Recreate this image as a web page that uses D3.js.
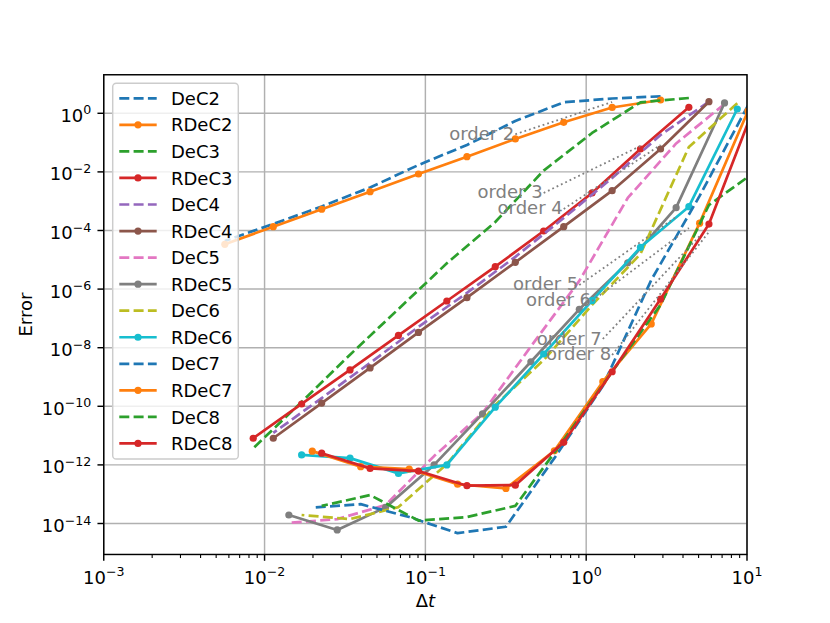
<!DOCTYPE html>
<html lang="en">
<head>
<meta charset="UTF-8" />
<title>DeC / RDeC convergence</title>
<script src="https://d3js.org/d3.v7.min.js"></script>
<style>
  body { margin: 0; background: #fff; }
  svg text { font-family: "DejaVu Sans", sans-serif; }
</style>
</head>
<body>
<svg id="chart" width="830" height="623"></svg>
<script>
// time steps, one array per order
const dt2 = [2.9, 1.45, 0.725, 0.3625, 0.1813, 0.0906, 0.0453, 0.02266, 0.01133, 0.00566];
const dt3 = [4.35, 2.175, 1.088, 0.544, 0.272, 0.136, 0.068, 0.034, 0.017, 0.0085];
const dt4 = [5.8, 2.9, 1.45, 0.725, 0.3625, 0.1813, 0.0906, 0.0453, 0.02266, 0.01133];
const dt5 = [7.25, 3.625, 1.813, 0.906, 0.453, 0.2266, 0.1133, 0.0566, 0.0283, 0.01416];
const dt6 = [8.7, 4.35, 2.175, 1.088, 0.544, 0.272, 0.136, 0.068, 0.034, 0.017];
const dt7 = [10.15, 5.075, 2.538, 1.269, 0.634, 0.317, 0.1586, 0.0793, 0.0396, 0.0198];
const dt8 = [11.6, 5.8, 2.9, 1.45, 0.725, 0.3625, 0.1813, 0.0906, 0.0453, 0.02266];

// errors
const errDeC2  = [3.80, 3.20, 2.37, 0.546, 8.28e-2, 1.72e-2, 2.94e-3, 6.59e-4, 1.67e-4, 4.39e-5];
const errRDeC2 = [2.84, 1.58, 0.493, 0.133, 3.30e-2, 8.47e-3, 2.11e-3, 5.30e-4, 1.35e-4, 3.38e-5];
const errDeC3  = [3.33, 2.37, 0.213, 1.11e-2, 1.95e-4, 7.59e-6, 2.09e-7, 5.75e-9, 1.41e-10, 3.69e-12];
const errRDeC3 = [1.60, 6.05e-2, 1.91e-3, 9.62e-5, 5.82e-6, 3.93e-7, 2.63e-8, 1.74e-9, 1.20e-10, 8.13e-12];
const errDeC4  = [2.49, 0.182, 6.17e-3, 2.69e-4, 1.26e-5, 7.41e-7, 5.13e-8, 3.02e-9, 1.91e-10, 1.23e-11];
const errRDeC4 = [2.49, 6.05e-2, 2.28e-3, 1.35e-4, 8.22e-6, 5.09e-7, 3.31e-8, 2.04e-9, 1.29e-10, 8.13e-12];
const errDeC5  = [2.07, 9.33e-2, 1.29e-3, 1.91e-6, 1.10e-8, 5.89e-11, 2.0e-12, 4.27e-14, 1.41e-14, 1.05e-14];
const errRDeC5 = [2.25, 6.03e-4, 7.94e-6, 2.04e-7, 3.31e-9, 5.50e-11, 1.0e-12, 3.55e-14, 6.03e-15, 1.95e-14];
const errDeC6  = [2.19, 7.08e-2, 1.58e-5, 2.88e-7, 3.80e-9, 1.10e-10, 1.07e-12, 3.63e-14, 1.41e-14, 1.95e-14];
const errRDeC6 = [1.40, 6.49e-4, 2.67e-5, 4.02e-7, 6.10e-9, 9.33e-11, 1.0e-12, 5.13e-13, 1.70e-12, 2.19e-12];
const errDeC7  = [1.86, 1.51e-3, 2.04e-6, 4.90e-10, 1.70e-12, 7.76e-15, 4.68e-15, 1.66e-14, 4.57e-14, 3.47e-14];
const errRDeC7 = [1.20, 1.78e-4, 6.46e-8, 6.92e-10, 3.02e-12, 1.58e-13, 2.19e-13, 7.24e-13, 8.71e-13, 2.95e-12];
const errDeC8  = [1.15e-2, 7.41e-4, 2.88e-7, 1.51e-9, 7.08e-12, 3.98e-14, 1.66e-14, 1.26e-14, 9.33e-14, 3.98e-14];
const errRDeC8 = [3.16, 1.66e-4, 4.57e-7, 1.51e-9, 5.89e-12, 2.04e-13, 1.95e-13, 6.17e-13, 7.59e-13, 2.51e-12];

// reference slope lines
const refOrder = [2, 3, 4, 5, 6, 7, 8];
const refX0 = [0.3625, 0.544, 0.725, 0.906, 1.088, 1.269, 1.45];
const refX1 = [1.45, 2.175, 2.9, 3.625, 4.35, 5.075, 5.8];
const refY0 = [0.192, 1.91e-3, 5.42e-4, 1.38e-6, 3.93e-7, 1.98e-8, 5.64e-9];
const refY1 = [2.43, 7.66e-2, 8.28e-2, 2.89e-4, 1.22e-4, 6.49e-5, 8.89e-5];

// tick exponents
const xTickExp = [-3, -2, -1, 0, 1];
const yTickExp = [0, -2, -4, -6, -8, -10, -12, -14];

const series = [
  { name: "DeC2", dt: dt2, err: errDeC2, rel: false },
  { name: "RDeC2", dt: dt2, err: errRDeC2, rel: true },
  { name: "DeC3", dt: dt3, err: errDeC3, rel: false },
  { name: "RDeC3", dt: dt3, err: errRDeC3, rel: true },
  { name: "DeC4", dt: dt4, err: errDeC4, rel: false },
  { name: "RDeC4", dt: dt4, err: errRDeC4, rel: true },
  { name: "DeC5", dt: dt5, err: errDeC5, rel: false },
  { name: "RDeC5", dt: dt5, err: errRDeC5, rel: true },
  { name: "DeC6", dt: dt6, err: errDeC6, rel: false },
  { name: "RDeC6", dt: dt6, err: errRDeC6, rel: true },
  { name: "DeC7", dt: dt7, err: errDeC7, rel: false },
  { name: "RDeC7", dt: dt7, err: errRDeC7, rel: true },
  { name: "DeC8", dt: dt8, err: errDeC8, rel: false },
  { name: "RDeC8", dt: dt8, err: errRDeC8, rel: true },
];
const colors = d3.schemeCategory10;
series.forEach((s, i) => (s.color = colors[i % 10]));

const L = 103.75, R = 747, T = 74.76, B = 554.47;
const x = d3.scaleLog().domain([1e-3, 10]).range([L, R]);
const y = d3.scaleLog().domain([Math.pow(10, -15.057), Math.pow(10, 1.315)]).range([B, T]);

const svg = d3.select("#chart");
svg.append("rect").attr("width", 830).attr("height", 623).attr("fill", "#fff");

svg.append("defs").append("clipPath").attr("id", "plotclip")
  .append("rect").attr("x", L).attr("y", T).attr("width", R - L).attr("height", B - T);

// grid
const grid = svg.append("g").attr("stroke", "#b0b0b0").attr("stroke-width", 1.45);
xTickExp.forEach((e) => {
  const px = x(Math.pow(10, e));
  grid.append("line").attr("x1", px).attr("x2", px).attr("y1", T).attr("y2", B);
});
yTickExp.forEach((e) => {
  const py = y(Math.pow(10, e));
  grid.append("line").attr("x1", L).attr("x2", R).attr("y1", py).attr("y2", py);
});

// data
const plot = svg.append("g").attr("clip-path", "url(#plotclip)");
const line = d3.line().x((d) => x(d[0])).y((d) => y(d[1]));

series.forEach((s) => {
  const pts = s.dt.map((t, i) => [t, s.err[i]]);
  plot.append("path")
    .attr("d", line(pts))
    .attr("fill", "none")
    .attr("stroke", s.color)
    .attr("stroke-width", 2.7)
    .attr("stroke-linejoin", "round")
    .attr("stroke-dasharray", s.rel ? null : "10,4.3");
  if (s.rel) {
    plot.append("g").selectAll("circle").data(pts).enter().append("circle")
      .attr("cx", (d) => x(d[0]))
      .attr("cy", (d) => y(d[1]))
      .attr("r", 3.6)
      .attr("fill", s.color);
  }
});

// reference order lines
refOrder.forEach((p, i) => {
  plot.append("line")
    .attr("x1", x(refX0[i])).attr("y1", y(refY0[i]))
    .attr("x2", x(refX1[i])).attr("y2", y(refY1[i]))
    .attr("stroke", "#808080")
    .attr("stroke-width", 1.8)
    .attr("stroke-dasharray", "1.8,3");
});
refOrder.forEach((p, i) => {
  svg.append("text")
    .attr("x", x(refX0[i]) - 1)
    .attr("y", y(refY0[i]) - 1)
    .attr("text-anchor", "end")
    .attr("dominant-baseline", "central")
    .attr("font-size", 18)
    .attr("fill", "#808080")
    .text("order " + p);
});

// frame
svg.append("rect").attr("x", L).attr("y", T).attr("width", R - L).attr("height", B - T)
  .attr("fill", "none").attr("stroke", "#000").attr("stroke-width", 1.45);

// ticks
const ticks = svg.append("g").attr("stroke", "#000");
xTickExp.forEach((e) => {
  const px = x(Math.pow(10, e));
  ticks.append("line").attr("x1", px).attr("x2", px).attr("y1", B).attr("y2", B + 6.3).attr("stroke-width", 1.45);
  if (e < 1) {
    for (let m = 2; m <= 9; m++) {
      const mx = x(m * Math.pow(10, e));
      ticks.append("line").attr("x1", mx).attr("x2", mx).attr("y1", B).attr("y2", B + 3.6).attr("stroke-width", 1.1);
    }
  }
  const t = svg.append("text").attr("x", px).attr("y", 583.6).attr("text-anchor", "middle").attr("font-size", 18);
  t.append("tspan").text("10");
  t.append("tspan").attr("dy", -7.5).attr("font-size", 12.6).text(String(e).replace("-", "\u2212"));
});
yTickExp.forEach((e) => {
  const py = y(Math.pow(10, e));
  ticks.append("line").attr("x1", L - 6.3).attr("x2", L).attr("y1", py).attr("y2", py).attr("stroke-width", 1.45);
  const t = svg.append("text").attr("x", L - 12.4).attr("y", py + 8.6).attr("text-anchor", "end").attr("font-size", 18);
  t.append("tspan").text("10");
  t.append("tspan").attr("dy", -7.5).attr("font-size", 12.6).text(String(e).replace("-", "\u2212"));
});

// axis labels
svg.append("text").attr("transform", "translate(31.5,314.6) rotate(-90)")
  .attr("text-anchor", "middle").attr("font-size", 18).text("Error");
const xl = svg.append("text").attr("x", 425.4).attr("y", 607).attr("text-anchor", "middle").attr("font-size", 18);
xl.append("tspan").text("\u0394");
xl.append("tspan").attr("font-style", "italic").text("t");

// legend
const lg = svg.append("g");
lg.append("rect").attr("x", 112.7).attr("y", 83.3).attr("width", 125.6).attr("height", 375.8)
  .attr("rx", 3.6).attr("fill", "#fff").attr("fill-opacity", 0.8)
  .attr("stroke", "#cccccc").attr("stroke-width", 1.45);
series.forEach((s, i) => {
  const cy = 98.3 + 26.55 * i;
  lg.append("line").attr("x1", 119.3).attr("x2", 156.7).attr("y1", cy).attr("y2", cy)
    .attr("stroke", s.color).attr("stroke-width", 2.7)
    .attr("stroke-dasharray", s.rel ? null : "10,4.3");
  if (s.rel) lg.append("circle").attr("cx", 138).attr("cy", cy).attr("r", 3.6).attr("fill", s.color);
  lg.append("text").attr("x", 171).attr("y", cy + 6.6).attr("font-size", 18).text(s.name);
});
</script>
</body>
</html>
